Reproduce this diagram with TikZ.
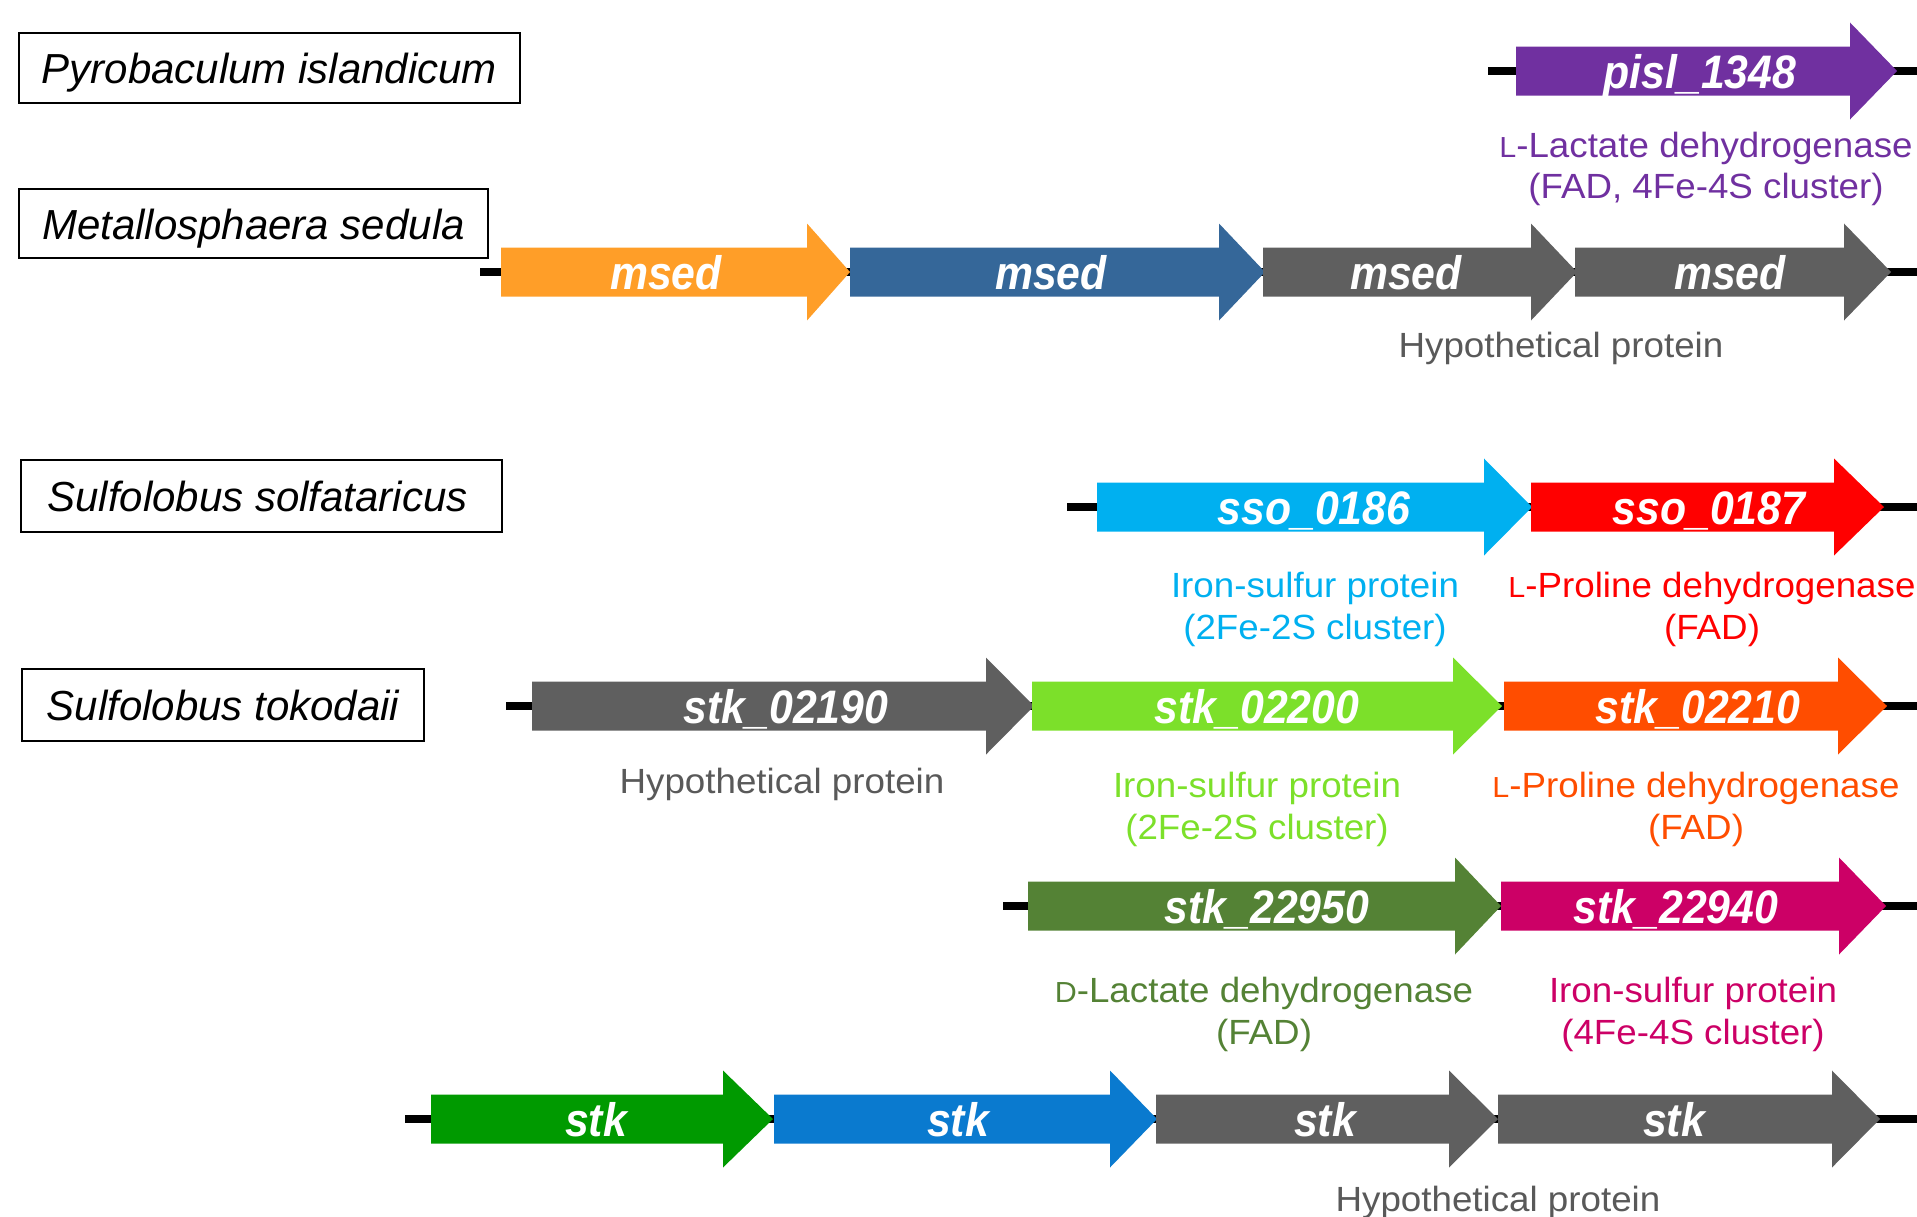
\documentclass[tikz,border=0pt]{standalone}
\usepackage{fontspec}
\setmainfont{Liberation Sans}
\newfontfamily\labfont[FakeStretch=1.05]{Liberation Sans}
\newfontfamily\genefont[FakeStretch=0.91]{Liberation Sans}
\definecolor{cpurple}{HTML}{7030A0}
\definecolor{corange}{HTML}{FF9E28}
\definecolor{cblue}{HTML}{356799}
\definecolor{cgray}{HTML}{5F5F5F}
\definecolor{ctxtgray}{HTML}{595959}
\definecolor{ccyan}{HTML}{00B0F0}
\definecolor{cred}{HTML}{FF0000}
\definecolor{clime}{HTML}{7CE02A}
\definecolor{cfire}{HTML}{FF4D00}
\definecolor{colive}{HTML}{548235}
\definecolor{cmag}{HTML}{CC0066}
\definecolor{cgreen}{HTML}{009A00}
\definecolor{cazure}{HTML}{0A7ACF}
\newcommand\mysc[1]{{\fontsize{29}{33}\selectfont #1}}
% #1 node name, #2 left, #3 head base, #4 tip, #5 y centre, #6 colour, #7 text x, #8 text
\newcommand\genearr[8]{%
  \fill[#6] (#2,#5-24.5) -- (#3,#5-24.5) -- (#3,#5-48.5) -- (#4,#5) -- (#3,#5+48.5) -- (#3,#5+24.5) -- (#2,#5+24.5) -- cycle;
  \node[genetxt] (#1) at (#7,#5+17.5) {#8};}
\begin{document}
\begin{tikzpicture}[x=1pt,y=-1pt,
  genetxt/.style={text=white, font=\genefont\bfseries\itshape\fontsize{47}{56}\selectfont, inner sep=0pt, anchor=base},
  lab/.style={font=\labfont\fontsize{35}{42}\selectfont, inner sep=0pt, anchor=base},
  species/.style={draw=black, line width=1.5pt, font=\itshape\fontsize{42}{50}\selectfont, inner sep=0pt, text height=36pt, text depth=5pt},
  backbone/.style={line width=8pt, black}]
\useasboundingbox (0,0) rectangle (1917,1216);

% species boxes
\node[species, minimum width=501pt, minimum height=70pt] (sp1) at (269.5,68) {Pyrobaculum islandicum};
\node[species, minimum width=469pt, minimum height=69pt] (sp2) at (253.5,223.5) {Metallosphaera sedula};
\node[species, minimum width=481pt, minimum height=72pt] (sp3) at (261.5,496) {Sulfolobus solfataricus\hspace*{8pt}};
\node[species, minimum width=402pt, minimum height=72pt] (sp4) at (223,705) {Sulfolobus tokodaii};

% backbones
\coordinate (b1l) at (1488,71);  \coordinate (b1r) at (1917,71);
\coordinate (b2l) at (480,272);  \coordinate (b2r) at (1917,272);
\coordinate (b3l) at (1067,507); \coordinate (b3r) at (1917,507);
\coordinate (b4l) at (506,706);  \coordinate (b4r) at (1917,706);
\coordinate (b5l) at (1003,906); \coordinate (b5r) at (1917,906);
\coordinate (b6l) at (405,1119); \coordinate (b6r) at (1917,1119);
\draw[backbone] (b1l) -- (b1r);
\draw[backbone] (b2l) -- (b2r);
\draw[backbone] (b3l) -- (b3r);
\draw[backbone] (b4l) -- (b4r);
\draw[backbone] (b5l) -- (b5r);
\draw[backbone] (b6l) -- (b6r);

% row 1
\genearr{g11}{1516}{1850}{1897}{71}{cpurple}{1700}{pisl\_1348}
% row 2
\genearr{g21}{501}{807}{850}{272}{corange}{666}{msed}
\genearr{g22}{850}{1219}{1265}{272}{cblue}{1051}{msed}
\genearr{g23}{1263}{1531}{1577}{272}{cgray}{1406}{msed}
\genearr{g24}{1575}{1844}{1891}{272}{cgray}{1730}{msed}
% row 3
\genearr{g31}{1097}{1484}{1532}{507}{ccyan}{1314}{sso\_0186}
\genearr{g32}{1531}{1834}{1884}{507}{cred}{1709}{sso\_0187}
% row 4
\genearr{g41}{532}{986}{1034}{706}{cgray}{786}{stk\_02190}
\genearr{g42}{1032}{1453}{1502}{706}{clime}{1257}{stk\_02200}
\genearr{g43}{1504}{1838}{1887}{706}{cfire}{1698}{stk\_02210}
% row 5
\genearr{g51}{1028}{1455}{1501}{906}{colive}{1267}{stk\_22950}
\genearr{g52}{1501}{1839}{1886}{906}{cmag}{1676}{stk\_22940}
% row 6
\genearr{g61}{431}{723}{773}{1119}{cgreen}{596}{stk}
\genearr{g62}{774}{1110}{1157}{1119}{cazure}{958}{stk}
\genearr{g63}{1156}{1449}{1498}{1119}{cgray}{1325}{stk}
\genearr{g64}{1498}{1832}{1880}{1119}{cgray}{1674}{stk}

% labels
\node[lab, text=cpurple] (l11a) at (1706,157) {\mysc{L}-Lactate dehydrogenase};
\node[lab, text=cpurple] (l11b) at (1706,198) {(FAD, 4Fe-4S cluster)};
\node[lab, text=ctxtgray] (l2) at (1561,357) {Hypothetical protein};
\node[lab, text=ccyan] (l31a) at (1315,597) {Iron-sulfur protein};
\node[lab, text=ccyan] (l31b) at (1315,639) {(2Fe-2S cluster)};
\node[lab, text=cred] (l32a) at (1712,597) {\mysc{L}-Proline dehydrogenase};
\node[lab, text=cred] (l32b) at (1712,639) {(FAD)};
\node[lab, text=ctxtgray] (l41) at (782,793) {Hypothetical protein};
\node[lab, text=clime] (l42a) at (1257,797) {Iron-sulfur protein};
\node[lab, text=clime] (l42b) at (1257,839) {(2Fe-2S cluster)};
\node[lab, text=cfire] (l43a) at (1696,797) {\mysc{L}-Proline dehydrogenase};
\node[lab, text=cfire] (l43b) at (1696,839) {(FAD)};
\node[lab, text=colive] (l51a) at (1264,1002) {\mysc{D}-Lactate dehydrogenase};
\node[lab, text=colive] (l51b) at (1264,1044) {(FAD)};
\node[lab, text=cmag] (l52a) at (1693,1002) {Iron-sulfur protein};
\node[lab, text=cmag] (l52b) at (1693,1044) {(4Fe-4S cluster)};
\node[lab, text=ctxtgray] (l6) at (1498,1211) {Hypothetical protein};
\end{tikzpicture}
\end{document}
